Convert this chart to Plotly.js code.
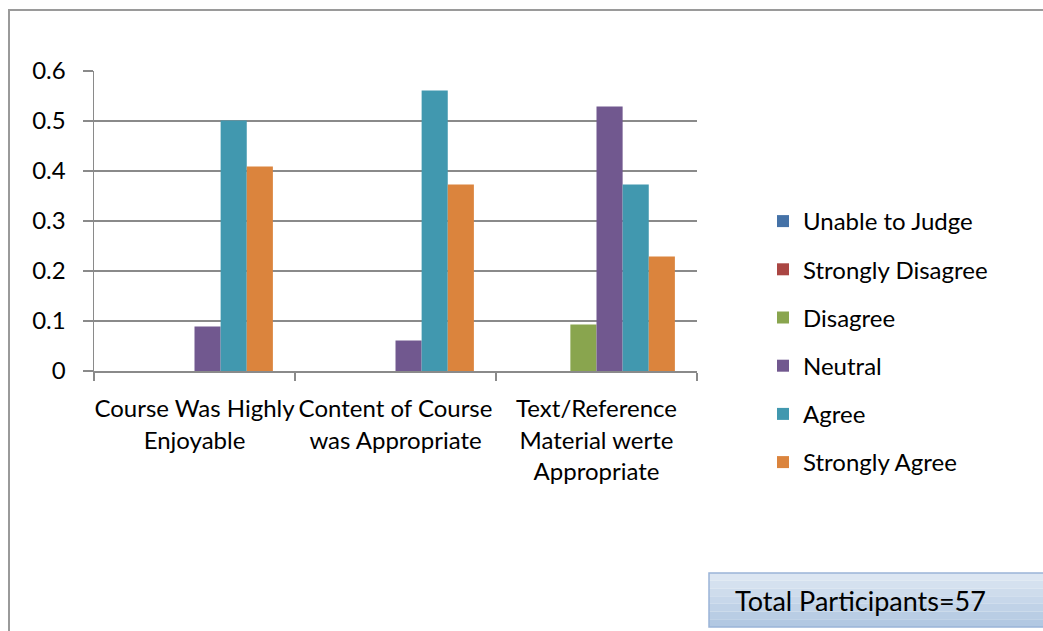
<!DOCTYPE html>
<html>
<head>
<meta charset="utf-8">
<script src="https://cdn.plot.ly/plotly-3.0.1.min.js"></script>
<style>html,body{margin:0;padding:0;background:#fff;}#chart{width:1043px;height:631px;}</style>
</head>
<body>
<div id="chart"></div>
<script>
var categories = ["Course Was Highly<br>Enjoyable", "Content of Course<br>was Appropriate", "Text/Reference<br>Material werte<br>Appropriate"];
var unableToJudge     = [0, 0, 0];
var stronglyDisagree  = [0, 0, 0];
var disagree          = [0, 0, 0.093];
var neutral           = [0.089, 0.061, 0.529];
var agree             = [0.501, 0.561, 0.373];
var stronglyAgree     = [0.409, 0.373, 0.229];
var seriesNames = ["Unable to Judge", "Strongly Disagree", "Disagree", "Neutral", "Agree", "Strongly Agree"];
var seriesValues = [unableToJudge, stronglyDisagree, disagree, neutral, agree, stronglyAgree];
var seriesColors = ["#4572a7", "#aa4643", "#89a54e", "#71588f", "#4198af", "#db843d"];
var yTicks = [0, 0.1, 0.2, 0.3, 0.4, 0.5, 0.6];
var yTickText = ["0", "0.1", "0.2", "0.3", "0.4", "0.5", "0.6"];
var noteText = "Total Participants=57";

var FONT = "Lato, 'Open Sans', sans-serif";
var traces = seriesNames.map(function(n, i){
  return {type:"bar", name:n, x:categories, y:seriesValues[i], legendgroup:"g"+i,
    marker:{color:seriesColors[i], line:{width:0}}, hoverinfo:"none"};
});

var shapes = [];
var bx0 = (709-94)/603, bx1 = 1.6;
var byTop = (371-573)/300, byBot = (371-627)/300;
var grad = ["#dce6f2","#d5e1ef","#cedcec","#c7d7ea","#c0d2e7","#b9cde4","#b2c8e2"];
for (var k=0;k<grad.length;k++){
  var t0 = byTop + (byBot-byTop)*k/grad.length;
  var t1 = byTop + (byBot-byTop)*(k+1)/grad.length;
  shapes.push({type:"rect", xref:"paper", yref:"paper", x0:bx0, x1:bx1, y0:t1, y1:t0,
    fillcolor:grad[k], line:{width:0}, layer:"above"});
}
shapes.push({type:"rect", xref:"paper", yref:"paper", x0:bx0, x1:bx1, y0:byBot, y1:byTop,
  fillcolor:"rgba(0,0,0,0)", line:{color:"#9ab4d8", width:1.5}, layer:"above"});
shapes.push({type:"rect", xref:"paper", yref:"paper", x0:(9-94)/603, x1:1.6, y0:-0.95, y1:(371-10)/300,
  fillcolor:"rgba(0,0,0,0)", line:{color:"#9a9a9a", width:2}, layer:"below"});

var layout = {
  width:1043, height:631,
  margin:{l:94, r:346, t:71, b:260, pad:0},
  paper_bgcolor:"#fff", plot_bgcolor:"#fff",
  font:{family:FONT, size:24, color:"#000"},
  barmode:"group", bargap:0.22, bargroupgap:0,
  showlegend:true,
  legend:{x:(763-94)/603, y:(371-199)/300, xanchor:"left", yanchor:"top",
    traceorder:"grouped", tracegroupgap:14, font:{family:FONT, size:24, color:"#000"},
    bgcolor:"rgba(0,0,0,0)", itemclick:false},
  xaxis:{type:"category", showline:true, linecolor:"#8a8a8a", linewidth:1.5,
    ticks:"outside", tickson:"boundaries", ticklen:8, tickcolor:"#8a8a8a", tickwidth:1.5,
    showgrid:false, tickangle:0, tickfont:{family:FONT, size:24}, ticklabelstandoff:16, fixedrange:true},
  yaxis:{range:[0,0.6], tickvals:yTicks, ticktext:yTickText, showline:true, linecolor:"#8a8a8a", linewidth:1.5,
    ticks:"outside", ticklen:10, tickcolor:"#8a8a8a", tickwidth:1.5,
    showgrid:true, gridcolor:"#8a8a8a", gridwidth:1.5, zeroline:false,
    tickfont:{family:FONT, size:24}, ticklabelstandoff:12, fixedrange:true},
  shapes:shapes,
  annotations:[{xref:"paper", yref:"paper", x:(733-94)/603, y:(byTop+byBot)/2, xanchor:"left", yanchor:"middle",
    text:noteText, showarrow:false, font:{family:FONT, size:27, color:"#000"}}]
};
Plotly.newPlot("chart", traces, layout, {displayModeBar:false, staticPlot:true});
</script>
</body>
</html>
